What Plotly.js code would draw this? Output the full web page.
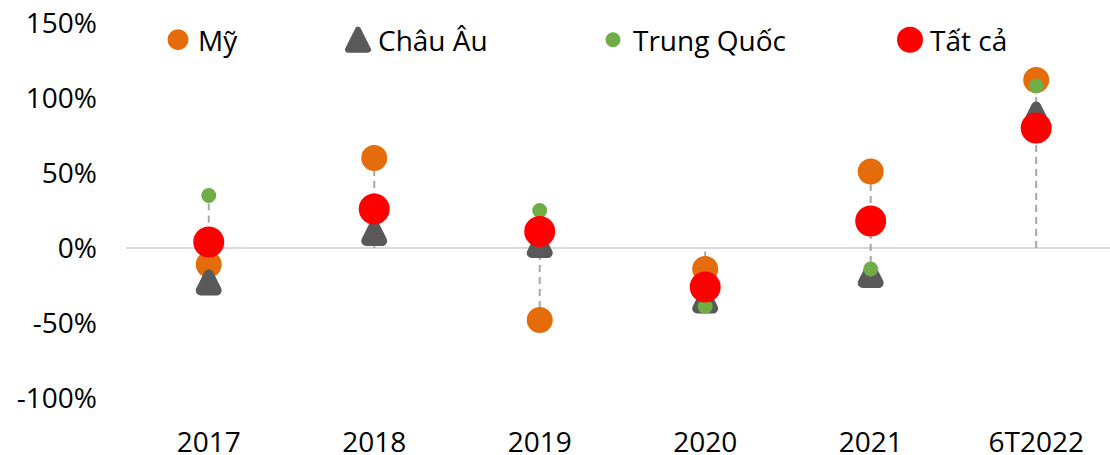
<!DOCTYPE html>
<html>
<head>
<meta charset="utf-8">
<script src="https://cdn.plot.ly/plotly-3.0.1.min.js"></script>
<style>
  html, body { margin: 0; padding: 0; background: #fff; }
  #chart { width: 1110px; height: 455px; }
  path.point, .legendpoints path { stroke-linejoin: round !important; }
</style>
</head>
<body>
<div id="chart"></div>
<script>
// ---- data ----
var categories = ['2017', '2018', '2019', '2020', '2021', '6T2022'];
var seriesNames = ['Mỹ', 'Châu Âu', 'Trung Quốc', 'Tất cả'];
var my        = [-11, 60, -48, -14, 51, 112];   // Mỹ
var chauAu    = [-23, 10,   2, -35, -18, 89];   // Châu Âu
var trungQuoc = [ 35, 24,  25, -39, -14, 108];  // Trung Quốc
var tatCa     = [  4, 26,  11, -26,  18, 80];   // Tất cả
var yTickVals = [-100, -50, 0, 50, 100, 150];
var yTickText = ['-100%', '-50%', '0%', '50%', '100%', '150%'];

// ---- drop lines (from axis to the extreme values of each category) ----
var allSeries = [my, chauAu, trungQuoc, tatCa];
var dropX = [], dropY = [];
categories.forEach(function (c, i) {
  var vals = allSeries.map(function (s) { return s[i]; });
  var lo = Math.min(0, Math.min.apply(null, vals));
  var hi = Math.max(0, Math.max.apply(null, vals));
  dropX.push(c, c, null);
  dropY.push(lo, hi, null);
});

var FONT = 'Open Sans, Noto Sans, sans-serif';

var traces = [
  {
    x: dropX, y: dropY, type: 'scatter', mode: 'lines',
    line: { color: '#a6a6a6', width: 2, dash: '7px,5px' },
    showlegend: false, hoverinfo: 'skip'
  },
  {
    x: categories, y: my, name: seriesNames[0], type: 'scatter', mode: 'markers',
    marker: { symbol: 'circle', size: 21, color: '#E46C0A', line: { color: '#E46C0A', width: 5 } },
    legend: 'legend'
  },
  {
    x: categories, y: chauAu, name: seriesNames[1], type: 'scatter', mode: 'markers',
    marker: { symbol: 'arrow-down', angle: 180, standoff: 8, size: 16, color: '#595959',
              line: { color: '#595959', width: 10 } },
    legend: 'legend2'
  },
  {
    x: categories, y: trungQuoc, name: seriesNames[2], type: 'scatter', mode: 'markers',
    marker: { symbol: 'circle', size: 12, color: '#70AD47', line: { color: '#70AD47', width: 3 } },
    legend: 'legend3'
  },
  {
    x: categories, y: tatCa, name: seriesNames[3], type: 'scatter', mode: 'markers',
    marker: { symbol: 'circle', size: 26, color: '#FF0000', line: { color: '#FF0000', width: 5 } },
    legend: 'legend4'
  }
];

// plot area in pixels: left 126, width 984; top 23, height 375
function leg(px) {
  return {
    orientation: 'h', xref: 'paper', yref: 'paper',
    x: (px - 126) / 984, xanchor: 'left', y: 1 - (40 - 23) / 375, yanchor: 'middle',
    font: { family: FONT, size: 28, color: '#000' },
    bgcolor: 'rgba(0,0,0,0)', borderwidth: 0
  };
}

var layout = {
  width: 1110, height: 455,
  margin: { l: 126, r: 0, t: 23, b: 57, pad: 0 },
  paper_bgcolor: '#fff', plot_bgcolor: '#fff',
  font: { family: FONT, size: 28, color: '#000' },
  showlegend: true,
  legend: leg(158),
  legend2: leg(338),
  legend3: leg(593),
  legend4: leg(890),
  xaxis: {
    type: 'category', range: [-0.5, 5.446],
    showgrid: false, zeroline: false, showline: false, ticks: '',
    tickfont: { family: FONT, size: 28, color: '#000' },
    ticklabelstandoff: 25, fixedrange: true, automargin: false
  },
  yaxis: {
    range: [-100, 150], tickmode: 'array', tickvals: yTickVals, ticktext: yTickText,
    showgrid: false, showline: false, ticks: '',
    zeroline: true, zerolinecolor: '#d9d9d9', zerolinewidth: 2,
    tickfont: { family: FONT, size: 28, color: '#000' },
    ticklabelstandoff: 28, fixedrange: true, automargin: false
  },
  hovermode: false
};

// legend symbol scale (Plotly caps legend symbols at 16px + 5px outline)
var legendSymbolScale = { legend: 1, legend2: 26 / 21, legend3: 1, legend4: 26 / 21 };

Plotly.newPlot('chart', traces, layout, { displayModeBar: false, staticPlot: true }).then(function (gd) {
  Object.keys(legendSymbolScale).forEach(function (id) {
    var p = gd.querySelector('g.' + id + ' .legendpoints path');
    if (!p) return;
    var bb = p.getBBox();
    var cx = bb.x + bb.width / 2, cy = bb.y + bb.height / 2;
    var m = /translate\(\s*([-\d.eE]+)[ ,]+([-\d.eE]+)\s*\)/.exec(p.getAttribute('transform') || '');
    var tx = m ? +m[1] : 0, ty = m ? +m[2] : 0;
    var s = legendSymbolScale[id];
    p.setAttribute('transform', 'translate(' + tx + ',' + ty + ') scale(' + s + ') translate(' + (-cx) + ',' + (-cy) + ')');
  });
});
</script>
</body>
</html>
